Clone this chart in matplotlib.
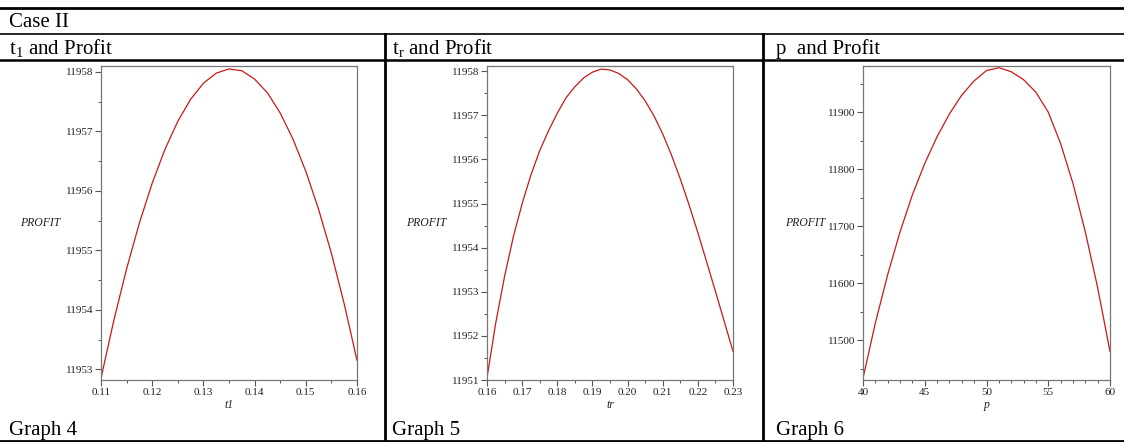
import matplotlib
matplotlib.use("Agg")
import matplotlib.pyplot as plt
from matplotlib.ticker import MultipleLocator
from matplotlib.lines import Line2D

# ---------------- data ----------------
t1_vals = [0.110, 0.1125, 0.115, 0.1175, 0.120, 0.1225, 0.125, 0.1275, 0.130, 0.1325,
           0.135, 0.1375, 0.140, 0.1425, 0.145, 0.1475, 0.150, 0.1525, 0.155, 0.1575, 0.160]
profit_t1 = [11952.85, 11953.82, 11954.69, 11955.46, 11956.13, 11956.70, 11957.17, 11957.54,
             11957.81, 11957.98, 11958.05, 11958.02, 11957.88, 11957.65, 11957.31, 11956.87,
             11956.33, 11955.69, 11954.95, 11954.10, 11953.15]

tr_vals = [0.160, 0.1625, 0.165, 0.1675, 0.170, 0.1725, 0.175, 0.1775, 0.180, 0.1825,
           0.185, 0.1875, 0.190, 0.1925, 0.195, 0.1975, 0.200, 0.2025, 0.205, 0.2075,
           0.210, 0.2125, 0.215, 0.2175, 0.220, 0.2225, 0.225, 0.2275, 0.230]
profit_tr = [11951.05, 11952.30, 11953.35, 11954.25, 11955.00, 11955.65, 11956.20, 11956.65,
             11957.05, 11957.40, 11957.65, 11957.85, 11957.98, 11958.05, 11958.03, 11957.95,
             11957.81, 11957.60, 11957.33, 11956.99, 11956.58, 11956.10, 11955.56, 11954.97,
             11954.34, 11953.68, 11953.01, 11952.33, 11951.65]

p_vals = [40, 41, 42, 43, 44, 45, 46, 47, 48, 49, 50, 51, 52, 53, 54, 55, 56, 57, 58, 59, 60]
profit_p = [11433, 11530, 11615, 11690, 11755, 11810, 11857, 11897, 11930, 11955, 11973,
            11978, 11971, 11957, 11935, 11900, 11845, 11775, 11690, 11592, 11480]

header = "Case II"
panel_titles = [r"t$_\mathregular{1}$ and Profit", r"t$_\mathregular{r}$ and Profit", "p  and Profit"]
graph_names = ["Graph 4", "Graph 5", "Graph 6"]
x_labels = ["t1", "tr", "p"]
y_label = "PROFIT"

# ---------------- figure ----------------
W, H = 1124, 442
fig = plt.figure(figsize=(W / 100, H / 100), dpi=100)
fig.patch.set_facecolor("white")
SERIF = ["Liberation Serif", "DejaVu Serif"]


def fx(px):
    return px / W


def fy(py):
    return 1 - py / H


def hline(y, x0=0, x1=W, lw=2.0):
    fig.add_artist(Line2D([fx(x0), fx(x1)], [fy(y), fy(y)], color="black", lw=lw,
                          transform=fig.transFigure))


def vline(x, y0, y1, lw=2.0):
    fig.add_artist(Line2D([fx(x), fx(x)], [fy(y0), fy(y1)], color="black", lw=lw,
                          transform=fig.transFigure))


hline(7.5, lw=2.0)
hline(33.5, lw=1.2)
hline(60, lw=1.8)
hline(440.5, lw=2.0)
vline(385, 33.5, 441)
vline(763, 33.5, 441)

fig.text(fx(9), fy(27), header, fontsize=15, family=SERIF, va="baseline", ha="left")
title_x = [9, 392, 776]
for tx, t in zip(title_x, panel_titles):
    fig.text(fx(tx), fy(54), t, fontsize=15, family=SERIF, va="baseline", ha="left")
for tx, g in zip(title_x, graph_names):
    fig.text(fx(tx), fy(435), g, fontsize=15, family=SERIF, va="baseline", ha="left")

boxes = [(101, 357, 66, 380), (487, 733, 66, 380), (863, 1110, 66, 380)]
ylab_off = [61, 61, 58]
xs = [t1_vals, tr_vals, p_vals]
ys = [profit_t1, profit_tr, profit_p]
xlims = [(0.11, 0.16), (0.16, 0.23), (40, 60)]
ylims = [(11952.82, 11958.10), (11951.00, 11958.12), (11430, 11981)]
xmaj = [0.01, 0.01, 5]
xmin = [0.005, 0.005, 1]
ymaj = [1, 1, 100]
ymin = [0.5, 0.5, 50]
xfmt = ["{:.2f}", "{:.2f}", "{:.0f}"]

for i in range(3):
    l, r, t, b = boxes[i]
    ax = fig.add_axes([fx(l), fy(b), (r - l) / W, (b - t) / H])
    ax.plot(xs[i], ys[i], color="#c81818", lw=0.9)
    ax.set_xlim(*xlims[i])
    ax.set_ylim(*ylims[i])
    ax.xaxis.set_major_locator(MultipleLocator(xmaj[i]))
    ax.xaxis.set_minor_locator(MultipleLocator(xmin[i]))
    ax.yaxis.set_major_locator(MultipleLocator(ymaj[i]))
    ax.yaxis.set_minor_locator(MultipleLocator(ymin[i]))
    f = xfmt[i]
    ax.xaxis.set_major_formatter(plt.FuncFormatter(lambda v, pos, f=f: f.format(v)))
    ax.yaxis.set_major_formatter(plt.FuncFormatter(lambda v, pos: "{:.0f}".format(v)))
    for s in ax.spines.values():
        s.set_color("#777777")
        s.set_linewidth(0.9)
    ax.tick_params(axis="both", which="major", length=4, width=0.8, color="#555555",
                   labelsize=8, labelcolor="#222222", pad=1.5, direction="out")
    ax.tick_params(axis="both", which="minor", length=2.5, width=0.7, color="#555555",
                   direction="out")
    for lab in ax.get_xticklabels() + ax.get_yticklabels():
        lab.set_family(SERIF)
    ax.text(0.5, -25 / (b - t), x_labels[i], transform=ax.transAxes, ha="center",
            va="center", fontsize=8.5, style="italic", family=SERIF, color="#222222")
    ax.text(-ylab_off[i] / (r - l), 0.5, y_label, transform=ax.transAxes, ha="center",
            va="center", fontsize=8.5, style="italic", family=SERIF, color="#222222")

fig.savefig("out.png", dpi=100, facecolor="white")
